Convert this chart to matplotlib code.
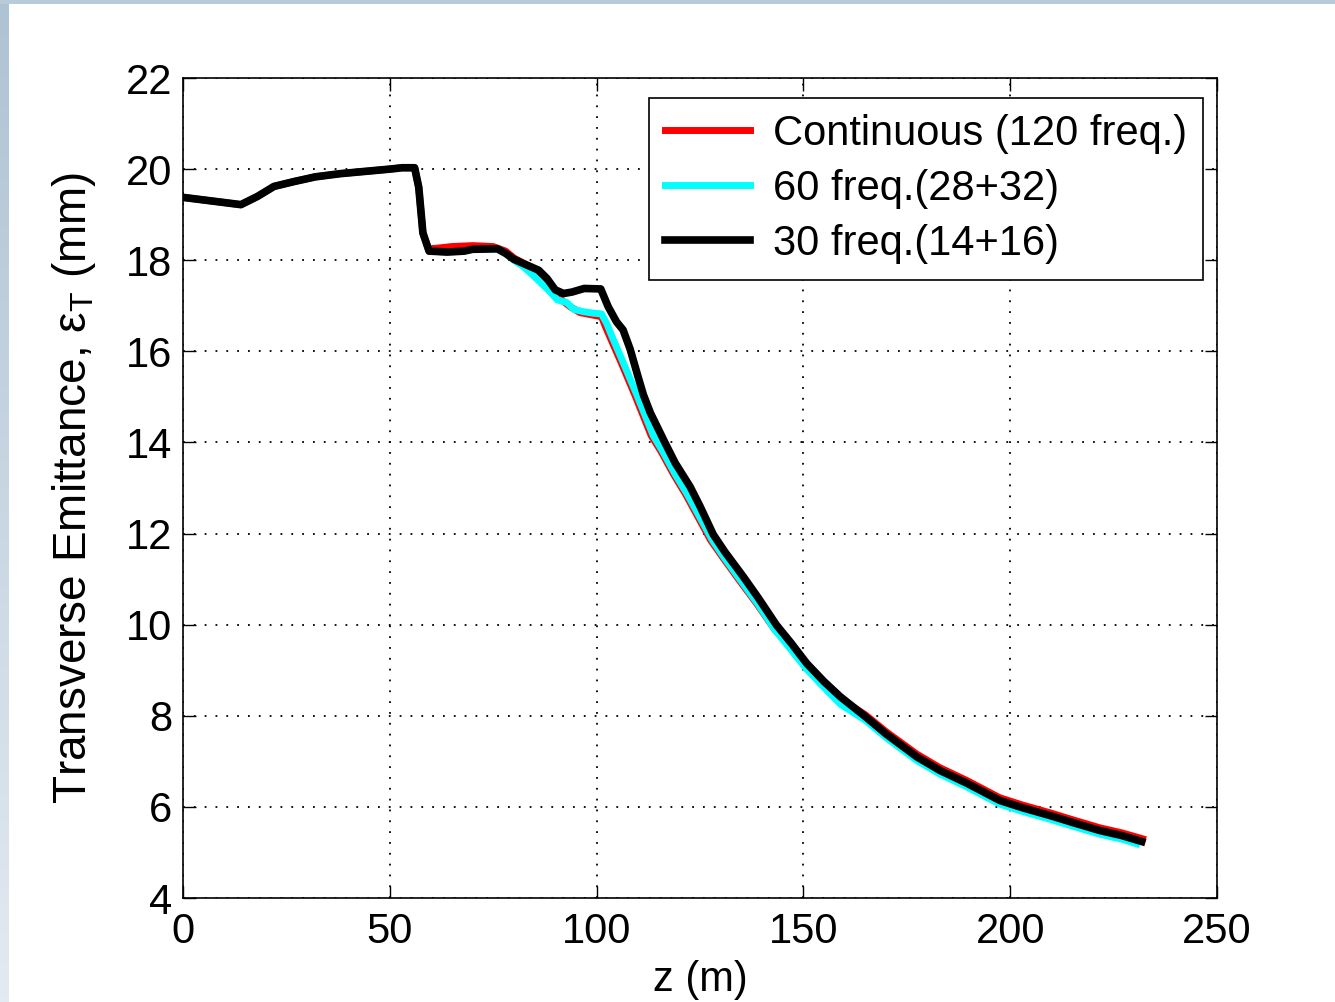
import numpy as np
import matplotlib
matplotlib.use("Agg")
import matplotlib.pyplot as plt

plt.rcParams['font.family'] = ['Liberation Sans', 'DejaVu Sans']
plt.rcParams['mathtext.fontset'] = 'custom'
plt.rcParams['mathtext.rm'] = 'Liberation Sans'
plt.rcParams['mathtext.it'] = 'Liberation Sans'

# shared start of all three runs (z in m, emittance in mm)
z_common = [0, 7, 14, 18, 22, 27, 32, 38, 44, 50, 53, 56, 57, 58, 59.5, 64, 68]
e_common = [19.38, 19.3, 19.22, 19.4, 19.62, 19.73, 19.83, 19.9, 19.95, 20.0,
            20.03, 20.03, 19.6, 18.6, 18.2, 18.18, 18.2]

# 30 freq. (14+16)
z_30 = [70, 76, 78, 80, 83, 86, 88, 90, 92, 94, 97, 101, 102.8, 104.8, 106.4,
        108.1, 110, 111.3, 113, 116.5, 119, 122.6, 125, 128.2, 131, 135.5, 139,
        143.5, 147, 150.8, 155, 158.9, 165, 170, 177.4, 183, 189.5, 197.5, 203,
        210, 215, 221.7, 227, 231.8]
e_30 = [18.24, 18.25, 18.15, 18.02, 17.9, 17.78, 17.6, 17.35, 17.27, 17.3, 17.38,
        17.37, 16.98, 16.65, 16.47, 16.05, 15.45, 15.05, 14.65, 14.0, 13.55, 13.03,
        12.6, 11.98, 11.6, 11.05, 10.6, 9.99, 9.6, 9.15, 8.75, 8.42, 7.98, 7.6,
        7.1, 6.8, 6.52, 6.14, 5.98, 5.8, 5.66, 5.48, 5.37, 5.24]

# 60 freq. (28+32)
z_60 = [70, 76, 78, 80, 82, 84.5, 88.7, 90.5, 92.8, 94.5, 96.8, 99, 101.2, 102.5,
        103.7, 106.5, 109.7, 113.7, 116, 119, 122, 125, 128, 131, 135, 139, 143,
        147, 150.5, 155, 159, 165, 170, 177.4, 183, 189.5, 197.5, 203, 210, 215,
        221.7, 227, 230.6]
e_60 = [18.24, 18.25, 18.15, 18.0, 17.88, 17.68, 17.31, 17.13, 17.07, 16.92, 16.87,
        16.84, 16.82, 16.6, 16.33, 15.74, 15.05, 14.15, 13.8, 13.3, 12.85, 12.35,
        11.85, 11.45, 10.95, 10.45, 9.9, 9.45, 9.05, 8.62, 8.25, 7.9, 7.52, 7.02,
        6.72, 6.44, 6.06, 5.9, 5.72, 5.58, 5.4, 5.29, 5.19]

# Continuous (120 freq.)
z_120 = [60, 65, 70, 75, 78, 80, 82, 85, 88, 90.5, 93.6, 96, 100, 101.2, 102.1,
         103.3, 106.1, 109.3, 113.2, 115.6, 118.6, 121.6, 124.6, 127.6, 130.7, 134.7,
         138.8, 143, 147, 150.8, 155, 158.9, 165, 170, 177.4, 183, 189.5, 197.5,
         203, 210, 215, 221.7, 227, 232]
e_120 = [18.25, 18.3, 18.32, 18.3, 18.2, 18.05, 17.95, 17.8, 17.5, 17.2, 16.98,
         16.85, 16.78, 16.76, 16.55, 16.3, 15.72, 15.03, 14.15, 13.8, 13.3, 12.85,
         12.35, 11.85, 11.45, 10.95, 10.45, 9.9, 9.5, 9.1, 8.7, 8.38, 8.02, 7.65,
         7.16, 6.86, 6.58, 6.2, 6.04, 5.86, 5.72, 5.54, 5.43, 5.3]

labels = ['Continuous (120 freq.)', '60 freq.(28+32)', '30 freq.(14+16)']

fig = plt.figure(figsize=(13.35, 10.02), dpi=100)

# bluish window frame on the left and top
grad = np.linspace(0, 1, 256).reshape(-1, 1)
bax = fig.add_axes([0, 0, 9 / 1335, 1])
bax.imshow(grad, aspect='auto', cmap=matplotlib.colors.LinearSegmentedColormap.from_list(
    'frame', ['#aec3d3', '#e3eaf1']), extent=[0, 1, 0, 1])
bax.axis('off')
tax = fig.add_axes([0, 1 - 4 / 1002, 1, 4 / 1002])
tax.set_facecolor('#b9cad8')
tax.set_xticks([]); tax.set_yticks([])
for s in tax.spines.values():
    s.set_visible(False)

ax = fig.add_axes([183 / 1335, 1 - 898 / 1002, (1217 - 183) / 1335, (898 - 78) / 1002])

zc = np.array(z_common)
ec = np.array(e_common)
ax.plot(np.concatenate([zc[:-1], z_120]), np.concatenate([ec[:-1], e_120]),
        color='#ff0000', lw=5, label=labels[0])
ax.plot(np.concatenate([zc, z_60]), np.concatenate([ec, e_60]),
        color='#00ffff', lw=5, label=labels[1])
ax.plot(np.concatenate([zc, z_30]), np.concatenate([ec, e_30]),
        color='black', lw=5.5, label=labels[2])

ax.set_xlim(0, 250)
ax.set_ylim(4, 22)
ax.set_xticks(np.arange(0, 251, 50))
ax.set_yticks(np.arange(4, 23, 2))
ax.tick_params(direction='in', length=9, width=1, labelsize=30,
               top=True, right=True)
ax.tick_params(axis='x', pad=10)
ax.tick_params(axis='y', pad=8)
ax.grid(True, linestyle=(0, (1, 5)), color='black', linewidth=1.3)
for s in ax.spines.values():
    s.set_linewidth(1.2)

ax.set_xlabel('z (m)', fontsize=30, labelpad=6)
ax.set_ylabel('Transverse Emittance, ε$_\\mathregular{T}$ (mm)', fontsize=33)
ax.yaxis.set_label_coords(-0.082, 0.5)

leg = ax.legend(loc='upper right', bbox_to_anchor=(0.9865, 0.9756), fontsize=30,
                fancybox=False, framealpha=1, edgecolor='black',
                handlelength=2.05, handletextpad=0.55, borderpad=0.38,
                labelspacing=0.36, borderaxespad=0)
leg.get_frame().set_linewidth(1.2)

plt.savefig('out.png', dpi=100)
